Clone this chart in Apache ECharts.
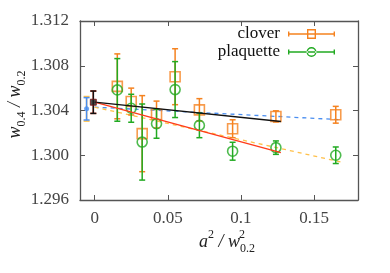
<!DOCTYPE html>
<html><head><meta charset="utf-8">
<script src="https://cdn.jsdelivr.net/npm/echarts@6/dist/echarts.min.js"></script>
<style>html,body{margin:0;padding:0;background:#fff}#c{width:390px;height:273px}</style>
</head><body><div id="c"></div>
<script>
// ---- data ----
const xs = [0.0155, 0.025, 0.0325, 0.0423, 0.055, 0.0716, 0.0943, 0.1239, 0.1648];
const cloverY = [1.30616, 1.3048, 1.30193, 1.30364, 1.30702, 1.30406, 1.30237, 1.30347, 1.30362];
const cloverErr = [0.0029, 0.0012, 0.0034, 0.0012, 0.0025, 0.0010, 0.0008, 0.0005, 0.00075];
const plaqY = [1.30584, 1.3042, 1.30118, 1.30282, 1.30587, 1.30267, 1.30036, 1.30068, 1.3000];
const plaqErr = [0.0028, 0.00125, 0.0034, 0.0013, 0.0025, 0.0011, 0.0008, 0.0006, 0.00074];
const fitX = [0, 0.1273];
const fitBlack = [1.30475, 1.30302];
const fitRed = [1.30475, 1.30024];
const dashX = [0, 0.168];
const dashBlue = [1.3043, 1.30318];
const dashOrange = [1.3043, 1.29941];
const extBlue = {x: -0.0055, y: 1.30415, err: 0.001, err2: 0.0011};
const extBlack = {x: -0.0009, y: 1.30474, err: 0.001, err2: 0.001};
const xTicks = [0, 0.05, 0.1, 0.15];
const yTicks = [1.296, 1.300, 1.304, 1.308, 1.312];

const ORANGE = '#f5821f', GREEN = '#22aa22', RED = '#ff3b1a', BLUE = '#4a8ef0', LORANGE = '#ffc04a';
const FONT = 'Liberation Serif';

function errData(x, y, e) { return x.map((v, i) => [v, y[i] - e[i], y[i] + e[i]]); }
function errSeries(data, color, z) {
  return {
    type: 'custom', z: z, silent: true,
    encode: {x: 0, y: [1, 2]},
    data: data,
    renderItem: function (params, api) {
      const x = api.value(0), lo = api.value(1), hi = api.value(2);
      const p1 = api.coord([x, lo]), p2 = api.coord([x, hi]);
      const w = 3, st = {stroke: color, lineWidth: 1.5};
      return {type: 'group', children: [
        {type: 'line', shape: {x1: p1[0], y1: p1[1], x2: p2[0], y2: p2[1]}, style: st},
        {type: 'line', shape: {x1: p1[0] - w, y1: p1[1], x2: p1[0] + w, y2: p1[1]}, style: st},
        {type: 'line', shape: {x1: p2[0] - w, y1: p2[1], x2: p2[0] + w, y2: p2[1]}, style: st}
      ]};
    }
  };
}
function pts(x, y) { return x.map((v, i) => [v, y[i]]); }

const cloverIcon = 'path://M0 4.3h47v1.4h-47Z M0 2.5h1.4v5h-1.4Z M45.6 2.5h1.4v5h-1.4Z M19 0h9v1.4h-9Z M19 8.6h9v1.4h-9Z M19 0h1.4v10h-1.4Z M26.6 0h1.4v10h-1.4Z';
const plaqIcon = 'path://M0 4.3h47v1.4h-47Z M0 2.5h1.4v5h-1.4Z M45.6 2.5h1.4v5h-1.4Z M18.5 5a5 5 0 1 0 10 0a5 5 0 1 0 -10 0Z M19.9 5a3.6 3.6 0 1 1 7.2 0a3.6 3.6 0 1 1 -7.2 0Z';

const LINE = {lineStyle: {color: '#555', width: 1.3}, onZero: false};
const TICK = {inside: true, length: 5, lineStyle: {color: '#555', width: 1}};

const chart = echarts.init(document.getElementById('c'), null, {renderer: 'canvas'});
chart.setOption({
  animation: false,
  backgroundColor: '#fff',
  grid: {left: 80, right: 32, top: 21, bottom: 73, outerBoundsMode: 'none', containLabel: false},
  legend: {
    orient: 'vertical', right: 50, top: 20, align: 'right',
    itemWidth: 47, itemHeight: 10, itemGap: 0,
    textStyle: {fontFamily: FONT, fontSize: 17, color: '#111', lineHeight: 18, padding: [0, 3, 0, 0]},
    data: [
      {name: 'clover', icon: cloverIcon, itemStyle: {color: ORANGE, borderWidth: 0, opacity: 1}},
      {name: 'plaquette', icon: plaqIcon, itemStyle: {color: GREEN, borderWidth: 0, opacity: 1}}
    ]
  },
  xAxis: [
    {
      type: 'value', min: -0.01, max: 0.18,
      axisLine: LINE, splitLine: {show: false},
      axisLabel: {fontFamily: FONT, fontSize: 17, color: '#444', margin: 10,
        customValues: xTicks, formatter: v => String(+v.toFixed(3))},
      axisTick: Object.assign({customValues: xTicks}, TICK),
      name: '{i|a}{sp|2}{n| / }{i|w}{sb|0.2}{sp2|2}',
      nameLocation: 'middle', nameGap: 29, nameMoveOverlap: false,
      nameTextStyle: {fontFamily: FONT, padding: [0, 0, 0, 6],
        rich: {
          i: {fontFamily: FONT, fontStyle: 'italic', fontSize: 18, color: '#222', lineHeight: 26},
          n: {fontFamily: FONT, fontStyle: 'italic', fontSize: 18, color: '#222', lineHeight: 26},
          sp: {fontFamily: FONT, fontSize: 12, color: '#222', lineHeight: 12, verticalAlign: 'top'},
          sb: {fontFamily: FONT, fontSize: 12, color: '#222', lineHeight: 12, verticalAlign: 'bottom'},
          sp2: {fontFamily: FONT, fontSize: 12, color: '#222', lineHeight: 12, verticalAlign: 'top', padding: [0, 0, 0, -16]}
        }}
    },
    {type: 'value', position: 'top', min: -0.01, max: 0.18,
      axisLine: LINE, splitLine: {show: false}, axisLabel: {show: false},
      axisTick: Object.assign({customValues: xTicks}, TICK)}
  ],
  yAxis: [
    {type: 'value', min: 1.296, max: 1.312, interval: 0.004,
      axisLine: LINE, splitLine: {show: false}, axisTick: TICK,
      axisLabel: {fontFamily: FONT, fontSize: 17, color: '#444', margin: 11, formatter: v => v.toFixed(3)},
      name: '{i|w}{sb|0.4}{n| / }{i|w}{sb|0.2}',
      nameLocation: 'middle', nameGap: 52, nameMoveOverlap: false,
      nameTextStyle: {fontFamily: FONT, padding: [0, 0, 0, 12],
        rich: {
          i: {fontFamily: FONT, fontStyle: 'italic', fontSize: 18, color: '#222', lineHeight: 26},
          n: {fontFamily: FONT, fontStyle: 'italic', fontSize: 18, color: '#222', lineHeight: 26},
          sb: {fontFamily: FONT, fontSize: 12, color: '#222', lineHeight: 12, verticalAlign: 'bottom'}
        }}
    },
    {type: 'value', position: 'right', min: 1.296, max: 1.312, interval: 0.004,
      axisLine: LINE, splitLine: {show: false}, axisLabel: {show: false}, axisTick: TICK}
  ],
  series: [
    {type: 'line', data: pts(dashX, dashBlue), symbol: 'none', z: 2, silent: true,
      lineStyle: {color: BLUE, width: 1.3, type: [4, 4]}},
    {type: 'line', data: pts(dashX, dashOrange), symbol: 'none', z: 2, silent: true,
      lineStyle: {color: LORANGE, width: 1.3, type: [4, 4]}},
    errSeries(errData(xs, cloverY, cloverErr), ORANGE, 3),
    {name: 'clover', type: 'scatter', data: pts(xs, cloverY), symbol: 'rect', symbolSize: 10, z: 4,
      itemStyle: {color: 'rgba(0,0,0,0)', borderColor: ORANGE, borderWidth: 1.6}},
    errSeries(errData(xs, plaqY, plaqErr), GREEN, 5),
    {name: 'plaquette', type: 'scatter', data: pts(xs, plaqY), symbol: 'circle', symbolSize: 10, z: 6,
      itemStyle: {color: 'rgba(0,0,0,0)', borderColor: GREEN, borderWidth: 1.6}},
    {type: 'line', data: pts(fitX, fitRed), symbol: 'none', z: 7, silent: true,
      lineStyle: {color: RED, width: 1.4}},
    {type: 'line', data: pts(fitX, fitBlack), symbol: 'none', z: 7, silent: true,
      lineStyle: {color: '#111', width: 1.4}},
    errSeries([[extBlue.x, extBlue.y - extBlue.err2, extBlue.y + extBlue.err2]], LORANGE, 8),
    errSeries([[extBlue.x, extBlue.y - extBlue.err, extBlue.y + extBlue.err]], BLUE, 9),
    {type: 'scatter', data: [[extBlue.x, extBlue.y]], symbol: 'circle', symbolSize: 5, z: 10,
      itemStyle: {color: BLUE}},
    errSeries([[extBlack.x, extBlack.y - extBlack.err2, extBlack.y + extBlack.err2]], RED, 8),
    errSeries([[extBlack.x, extBlack.y - extBlack.err, extBlack.y + extBlack.err]], '#111', 9),
    {type: 'scatter', data: [[extBlack.x, extBlack.y]], symbol: 'rect', symbolSize: 6, z: 10,
      itemStyle: {color: '#222', borderColor: '#7a1010', borderWidth: 1}}
  ]
});
</script></body></html>
